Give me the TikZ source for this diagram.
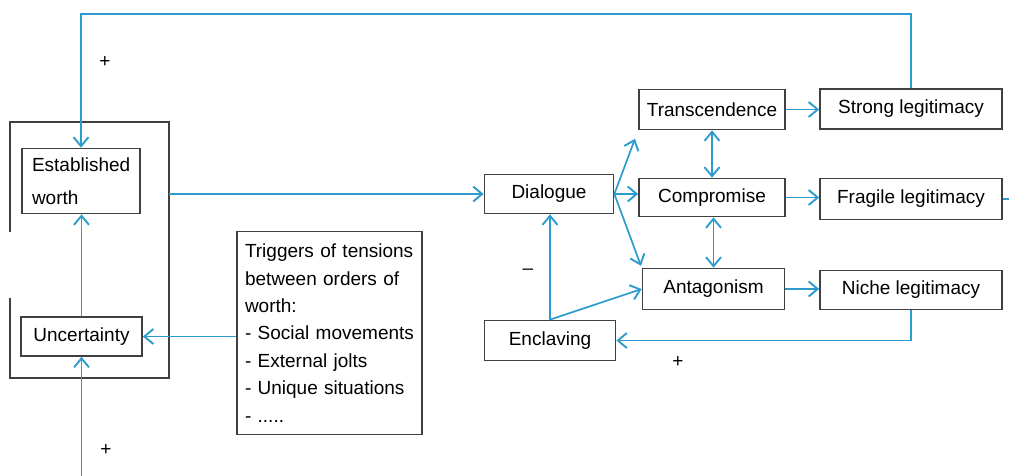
\documentclass[tikz,border=0pt]{standalone}
\usepackage{fontspec}
\setmainfont{Liberation Sans}
\usetikzlibrary{arrows.meta}
\definecolor{linkblue}{RGB}{45,155,205}
\definecolor{boxgray}{RGB}{64,64,64}

\begin{document}
\begin{tikzpicture}[x=1pt,y=-1pt]
  \tikzset{box/.style = {shape=rectangle,draw=boxgray,line width=1.7pt,inner sep=0pt,font=\fontsize{19}{23}\selectfont}}
  \tikzset{link/.style = {draw=linkblue,line width=1.7pt,-tipA}}
  \tikzset{sign/.style = {font=\fontsize{19}{22}\selectfont}}
  \tikzset{%
  tipA/.tip={Straight Barb[length=9pt,width=15pt,line width=1.9pt]},
}
  \useasboundingbox (0,0) rectangle (1009,476);

	% left frame with its gap
	\node[minimum width=159pt,minimum height=256pt] (ctx) at (89.5,250) {};
	\draw[draw=boxgray,line width=1.7pt] (ctx.west |- 0,232) -- (ctx.north west) -- (ctx.north east)
	  -- (ctx.south east) -- (ctx.south west) -- (ctx.west |- 0,298);

	\node[box,minimum width=118pt,minimum height=65pt,align=left,text width=98pt,font=\fontsize{19}{33}\selectfont] (est) at (81,181) {Established\\worth};
	\node[box,minimum width=121pt,minimum height=39pt] (unc) at (81.5,336.5) {Uncertainty};
	\node[box,minimum width=185pt,minimum height=203pt,align=left,text width=169pt,font=\fontsize{19}{27.4}\selectfont] (trg) at (329.5,333)
	  {Triggers of tensions\\between orders of\\worth:\\- Social movements\\- External jolts\\- Unique situations\\- .....};

	\node[box,minimum width=129pt,minimum height=39pt] (dlg) at (549,194) {Dialogue};
	\node[box,minimum width=131pt,minimum height=40pt] (enc) at (550,340.5) {Enclaving};
	\node[box,minimum width=146pt,minimum height=40pt] (trn) at (712,109.5) {Transcendence};
	\node[box,minimum width=146pt,minimum height=38pt] (cmp) at (712,197.5) {Compromise};
	\node[box,minimum width=142pt,minimum height=41pt] (ant) at (713.5,289) {Antagonism};
	\node[box,minimum width=182pt,minimum height=40pt] (str) at (911,109) {Strong legitimacy};
	\node[box,minimum width=182pt,minimum height=41pt] (frg) at (911,199) {Fragile legitimacy};
	\node[box,minimum width=182pt,minimum height=39pt] (nic) at (911,290) {Niche legitimacy};

	\node[sign] (plustop) at (105,62) {+};
	\node[sign] (plusbot) at (106,450) {+};
	\node[sign] (plusenc) at (678,362) {+};
	\node[sign] (minus) at (528,272) {\textendash};

	\coordinate (bot) at (81.5,476);
	\coordinate (frgout) at (1009,199);

	\draw[link] (bot) -- (unc.south);
	\draw[link] (unc.north) -- (unc.north |- est.south);
	\draw[link] (trg.west |- unc.east) -- (unc.east);
	\draw[link] (ctx.east |- dlg.west) -- (dlg.west);
	\draw[link] (str.north) -- ++(0,-74) -| (est.north);

	\draw[link,shorten >=9pt] (dlg.east) -- (trn.south west);
	\draw[link] (dlg.east) -- (dlg.east -| cmp.west);
	\draw[link,shorten >=2pt] (dlg.east) -- (ant.north west);

	\draw[link,tipA-tipA] (trn.south) -- (cmp.north);
	\draw[link,tipA-tipA] (ant.north |- cmp.south) -- (ant.north);

	\foreach \from/\to in {trn/str, cmp/frg, ant/nic}
	\draw[link] (\from.east) -- (\from.east -| \to.west);

	\draw[draw=linkblue,line width=1.7pt] (frg.east) -- (frgout);
	\draw[link] (nic.south) |- (enc.east);
	\draw[link] (enc.north) -- (enc.north |- dlg.south);
	\draw[link] (enc.north) -- (ant.west);

\end{tikzpicture}
\end{document}
